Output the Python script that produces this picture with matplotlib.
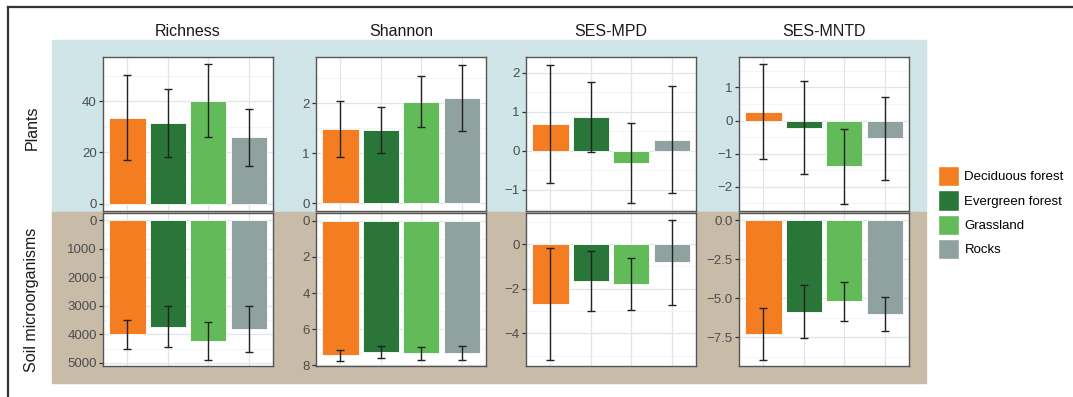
import matplotlib
matplotlib.use("Agg")
import matplotlib.pyplot as plt
from matplotlib.patches import Rectangle, Patch
from matplotlib.lines import Line2D
from matplotlib.ticker import FixedLocator, FuncFormatter

plt.rcParams['font.family'] = ['Liberation Sans', 'DejaVu Sans']

groups = ['Deciduous forest', 'Evergreen forest', 'Grassland', 'Rocks']
colors = ['#f47d22', '#2a7538', '#62bb58', '#8fa29f']
metrics = ['Richness', 'Shannon', 'SES-MPD', 'SES-MNTD']

# plants row: mean, lower and upper end of the error bar
plants_mean = {
    'Richness': [33.6, 31.5, 40.0, 25.9],
    'Shannon': [1.49, 1.46, 2.03, 2.11],
    'SES-MPD': [0.68, 0.86, -0.33, 0.27],
    'SES-MNTD': [0.27, -0.21, -1.37, -0.52],
}
plants_lo = {
    'Richness': [17.0, 18.4, 25.9, 14.8],
    'Shannon': [0.93, 1.01, 1.53, 1.45],
    'SES-MPD': [-0.82, -0.03, -1.35, -1.10],
    'SES-MNTD': [-1.16, -1.62, -2.52, -1.78],
}
plants_hi = {
    'Richness': [50.3, 44.6, 54.4, 37.0],
    'Shannon': [2.05, 1.92, 2.55, 2.77],
    'SES-MPD': [2.20, 1.75, 0.71, 1.66],
    'SES-MNTD': [1.70, 1.20, -0.25, 0.72],
}

# soil row (richness and shannon drawn on a reversed axis)
soil_mean = {
    'Richness': [4000, 3730, 4220, 3800],
    'Shannon': [7.42, 7.24, 7.33, 7.29],
    'SES-MPD': [-2.67, -1.66, -1.78, -0.82],
    'SES-MNTD': [-7.29, -5.86, -5.20, -6.03],
}
soil_lo = {
    'Richness': [3497, 2990, 3555, 3000],
    'Shannon': [7.13, 6.91, 6.98, 6.94],
    'SES-MPD': [-5.18, -3.01, -2.94, -2.72],
    'SES-MNTD': [-8.93, -7.56, -6.49, -7.12],
}
soil_hi = {
    'Richness': [4500, 4450, 4895, 4620],
    'Shannon': [7.76, 7.59, 7.70, 7.70],
    'SES-MPD': [-0.18, -0.31, -0.64, 1.09],
    'SES-MNTD': [-5.65, -4.17, -3.96, -4.94],
}

plants_ticks = {'Richness': [0, 20, 40], 'Shannon': [0, 1, 2],
                'SES-MPD': [-1, 0, 1, 2], 'SES-MNTD': [-2, -1, 0, 1]}
plants_minor = {'Richness': [10, 30, 50], 'Shannon': [0.5, 1.5, 2.5],
                'SES-MPD': [-1.5, -0.5, 0.5, 1.5], 'SES-MNTD': [-2.5, -1.5, -0.5, 0.5, 1.5]}
plants_lim = {'Richness': (-2.9, 57.3), 'Shannon': (-0.16, 2.92),
              'SES-MPD': (-1.55, 2.40), 'SES-MNTD': (-2.73, 1.92)}

soil_ticks = {'Richness': [0, 1000, 2000, 3000, 4000, 5000], 'Shannon': [0, 2, 4, 6, 8],
              'SES-MPD': [-4, -2, 0], 'SES-MNTD': [-7.5, -5.0, -2.5, 0.0]}
soil_minor = {'Richness': [500, 1500, 2500, 3500, 4500], 'Shannon': [1, 3, 5, 7],
              'SES-MPD': [-5, -3, -1, 1], 'SES-MNTD': [-8.75, -6.25, -3.75, -1.25]}
soil_lim = {'Richness': (5105, -245), 'Shannon': (8.03, -0.43),
            'SES-MPD': (-5.46, 1.39), 'SES-MNTD': (-9.34, 0.45)}

W, H = 1073, 397
fig = plt.figure(figsize=(W / 100, H / 100), dpi=100)


def box(x0, y0, x1, y1):
    return [x0 / W, 1 - y1 / H, (x1 - x0) / W, (y1 - y0) / H]


# background bands and frame
fig.patches.append(Rectangle((52 / W, 1 - 212 / H), (926 - 52) / W, (212 - 40) / H,
                             transform=fig.transFigure, color='#cfe5e7', zorder=-5))
fig.patches.append(Rectangle((52 / W, 1 - 383 / H), (926 - 52) / W, (383 - 212) / H,
                             transform=fig.transFigure, color='#c8bba8', zorder=-5))
fig.lines.append(Line2D([8 / W, 1], [1 - 7 / H, 1 - 7 / H], transform=fig.transFigure,
                        color='#333333', lw=1.6))
fig.lines.append(Line2D([8 / W, 8 / W], [0, 1 - 7 / H], transform=fig.transFigure,
                        color='#333333', lw=1.6))

lefts = [103, 316, 526, 739]
x = [1, 2, 3, 4]


def panel(rect, mean, lo, hi, ticks, minor, lim, fmt=None):
    ax = fig.add_axes(rect)
    ax.set_facecolor('white')
    err = [[m - l for m, l in zip(mean, lo)], [h - m for m, h in zip(mean, hi)]]
    ax.bar(x, mean, width=0.9, color=colors, edgecolor='white', linewidth=0.6, zorder=2)
    ax.errorbar(x, mean, yerr=err, fmt='none', ecolor='#222222', elinewidth=1.0,
                capsize=3, capthick=1.0, zorder=3)
    ax.set_xlim(0.4, 4.6)
    ax.set_ylim(*lim)
    ax.set_xticks(x)
    ax.set_xticklabels([])
    ax.tick_params(axis='x', length=0)
    ax.yaxis.set_major_locator(FixedLocator(ticks))
    ax.yaxis.set_minor_locator(FixedLocator(minor))
    if fmt:
        ax.yaxis.set_major_formatter(
            FuncFormatter(lambda v, p: (fmt % v).replace('-', '\u2212')))
    ax.tick_params(axis='y', which='major', length=3, width=0.9, color='#333333',
                   labelsize=9.5, labelcolor='#4d4d4d', pad=1.5)
    ax.tick_params(axis='y', which='minor', length=0)
    ax.grid(True, which='major', color='#e1e5e9', lw=0.9, zorder=0)
    ax.grid(True, which='minor', axis='y', color='#eef0f2', lw=0.5, zorder=0)
    ax.set_axisbelow(True)
    for s in ax.spines.values():
        s.set_color('#555555')
        s.set_linewidth(1.0)
    return ax


for i, m in enumerate(metrics):
    l = lefts[i]
    panel(box(l, 57, l + 170, 211), plants_mean[m], plants_lo[m], plants_hi[m],
          plants_ticks[m], plants_minor[m], plants_lim[m])
    panel(box(l, 213, l + 170, 366), soil_mean[m], soil_lo[m], soil_hi[m],
          soil_ticks[m], soil_minor[m], soil_lim[m],
          fmt='%.1f' if m == 'SES-MNTD' else None)
    fig.text((l + 85) / W, 1 - 31 / H, m, ha='center', va='center', fontsize=11.5,
             color='#1a1a1a')

fig.text(32 / W, 1 - 128 / H, 'Plants', rotation=90, ha='center', va='center',
         fontsize=11.5, color='#1a1a1a')
fig.text(32 / W, 1 - 300 / H, 'Soil microorganisms', rotation=90, ha='center',
         va='center', fontsize=11.5, color='#1a1a1a')

handles = [Patch(facecolor=c, edgecolor='white', label=g) for g, c in zip(groups, colors)]
fig.legend(handles=handles, loc='upper left', bbox_to_anchor=(938 / W, 1 - 166 / H),
           frameon=False, fontsize=9.5, handlelength=1.6, handleheight=2.0,
           handletextpad=0.4, labelspacing=0.3, borderaxespad=0, borderpad=0)

fig.savefig('out.png', dpi=100)
